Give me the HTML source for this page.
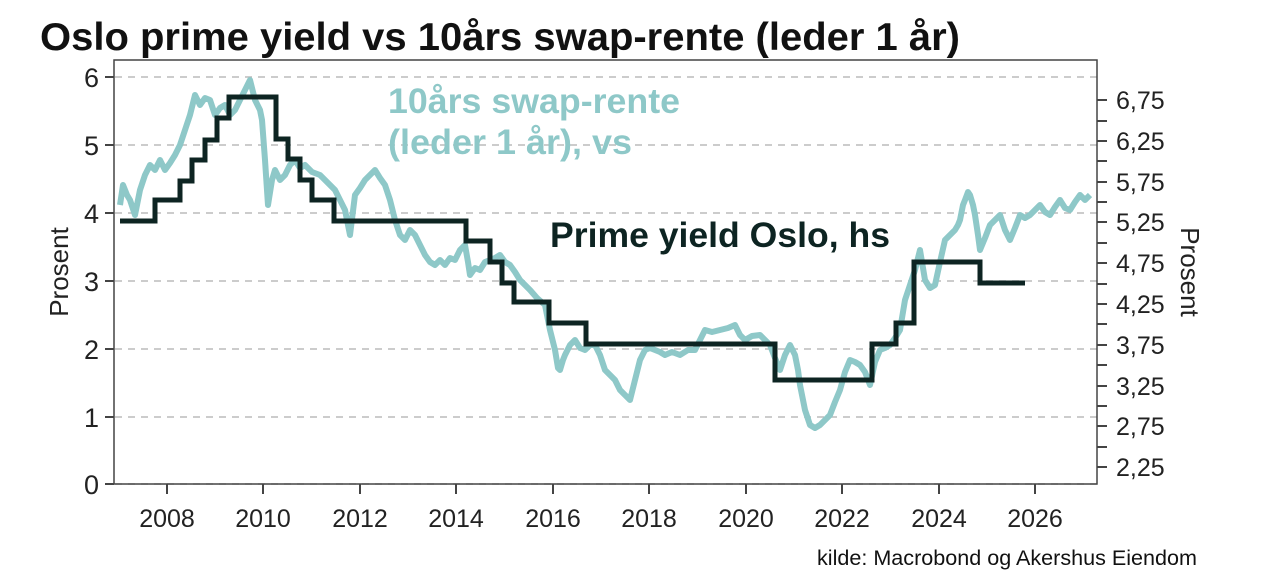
<!DOCTYPE html>
<html><head><meta charset="utf-8"><style>
body{margin:0;background:#fff;}
svg{display:block;font-family:"Liberation Sans",Arial,sans-serif;}
</style></head><body>
<svg width="1266" height="588" viewBox="0 0 1266 588">
<rect width="1266" height="588" fill="#fff"/>
<text x="40" y="50" font-size="39" font-weight="bold" fill="#111" textLength="920" lengthAdjust="spacingAndGlyphs">Oslo prime yield vs 10års swap-rente (leder 1 år)</text>
<g stroke="#bbb" stroke-width="1.5" stroke-dasharray="7,6">
<line x1="115" y1="77" x2="1097" y2="77"/><line x1="115" y1="145" x2="1097" y2="145"/>
<line x1="115" y1="213" x2="1097" y2="213"/><line x1="115" y1="281" x2="1097" y2="281"/>
<line x1="115" y1="349" x2="1097" y2="349"/><line x1="115" y1="417" x2="1097" y2="417"/>
<line x1="115" y1="484" x2="1097" y2="484"/>
</g>
<rect x="114" y="60" width="983" height="424" fill="none" stroke="#444" stroke-width="1.5"/>
<g stroke="#444" stroke-width="2">
<line x1="105" y1="77" x2="114" y2="77"/><line x1="105" y1="145" x2="114" y2="145"/><line x1="105" y1="213" x2="114" y2="213"/><line x1="105" y1="281" x2="114" y2="281"/><line x1="105" y1="349" x2="114" y2="349"/><line x1="105" y1="417" x2="114" y2="417"/><line x1="105" y1="484" x2="114" y2="484"/>
<line x1="167" y1="484" x2="167" y2="494"/><line x1="263" y1="484" x2="263" y2="494"/><line x1="360" y1="484" x2="360" y2="494"/><line x1="456" y1="484" x2="456" y2="494"/><line x1="553" y1="484" x2="553" y2="494"/><line x1="649" y1="484" x2="649" y2="494"/><line x1="746" y1="484" x2="746" y2="494"/><line x1="842" y1="484" x2="842" y2="494"/><line x1="939" y1="484" x2="939" y2="494"/><line x1="1035" y1="484" x2="1035" y2="494"/>
<line x1="1097" y1="100" x2="1107" y2="100"/><line x1="1097" y1="121" x2="1107" y2="121"/><line x1="1097" y1="141" x2="1107" y2="141"/><line x1="1097" y1="161" x2="1107" y2="161"/><line x1="1097" y1="182" x2="1107" y2="182"/><line x1="1097" y1="202" x2="1107" y2="202"/><line x1="1097" y1="222" x2="1107" y2="222"/><line x1="1097" y1="243" x2="1107" y2="243"/><line x1="1097" y1="263" x2="1107" y2="263"/><line x1="1097" y1="284" x2="1107" y2="284"/><line x1="1097" y1="304" x2="1107" y2="304"/><line x1="1097" y1="324" x2="1107" y2="324"/><line x1="1097" y1="345" x2="1107" y2="345"/><line x1="1097" y1="365" x2="1107" y2="365"/><line x1="1097" y1="386" x2="1107" y2="386"/><line x1="1097" y1="406" x2="1107" y2="406"/><line x1="1097" y1="426" x2="1107" y2="426"/><line x1="1097" y1="447" x2="1107" y2="447"/><line x1="1097" y1="467" x2="1107" y2="467"/>
</g>
<g font-size="27" fill="#222" text-anchor="end">
<text x="99" y="87">6</text><text x="99" y="155">5</text><text x="99" y="223">4</text><text x="99" y="291">3</text><text x="99" y="359">2</text><text x="99" y="427">1</text><text x="99" y="494">0</text>
</g>
<g font-size="25" fill="#222" text-anchor="middle">
<text x="167" y="527">2008</text><text x="263" y="527">2010</text><text x="360" y="527">2012</text><text x="456" y="527">2014</text><text x="553" y="527">2016</text><text x="649" y="527">2018</text><text x="746" y="527">2020</text><text x="842" y="527">2022</text><text x="939" y="527">2024</text><text x="1035" y="527">2026</text>
</g>
<g font-size="25" fill="#222">
<text x="1116" y="109">6,75</text><text x="1116" y="150">6,25</text><text x="1116" y="191">5,75</text><text x="1116" y="231">5,25</text><text x="1116" y="272">4,75</text><text x="1116" y="313">4,25</text><text x="1116" y="354">3,75</text><text x="1116" y="395">3,25</text><text x="1116" y="435">2,75</text><text x="1116" y="476">2,25</text>
</g>
<text transform="translate(68,272) rotate(-90)" font-size="26" fill="#222" text-anchor="middle">Prosent</text>
<text transform="translate(1181,272) rotate(90)" font-size="26" fill="#222" text-anchor="middle">Prosent</text>
<polyline fill="none" stroke="#8ec8c8" stroke-width="6" stroke-linejoin="round" points="120,205 123,185 127,195 130,200 135,215 138,200 140,190 145,175 150,165 155,170 160,160 165,170 170,163 175,155 180,145 185,130 190,115 195,95 200,105 205,98 210,100 215,115 220,108 225,105 230,115 235,110 240,100 245,90 250,80 255,100 260,110 262,120 265,160 268,205 272,180 275,170 280,180 285,175 290,165 295,160 300,168 305,165 312,172 320,175 328,183 335,190 340,200 345,210 350,235 355,195 360,188 365,180 370,175 375,170 380,178 385,185 390,200 395,220 400,235 405,240 410,230 415,235 420,245 425,255 430,262 435,265 440,260 445,265 450,258 455,260 460,250 465,245 468,262 470,275 475,268 480,270 485,262 490,260 495,258 500,255 505,262 510,265 515,272 520,280 525,285 530,290 537,298 545,305 550,330 555,350 558,368 560,370 563,360 565,355 570,345 575,340 580,348 585,350 590,345 595,345 600,355 605,370 610,375 615,380 620,390 625,395 630,400 635,380 640,360 645,350 650,348 655,350 660,352 665,355 672,352 680,355 688,350 695,350 700,340 705,330 712,332 720,330 728,328 735,325 740,335 745,340 752,336 760,335 765,340 770,345 775,358 780,370 785,355 790,345 795,355 798,370 800,385 805,410 810,425 815,428 820,425 825,420 830,415 835,402 840,390 845,372 850,360 855,362 860,365 865,372 870,385 875,362 880,350 885,348 890,345 895,338 900,330 903,312 905,300 910,285 915,270 920,250 923,268 925,280 930,288 935,285 940,262 945,240 950,235 955,230 958,225 960,220 963,205 965,200 968,192 970,195 973,205 975,215 978,235 980,250 985,238 990,225 995,220 1000,215 1005,230 1010,240 1015,228 1020,215 1025,218 1030,215 1035,210 1040,205 1045,212 1050,215 1055,207 1060,200 1065,208 1070,210 1075,202 1080,195 1085,200 1090,195"/>
<polyline fill="none" stroke="#0d2422" stroke-width="5" stroke-linejoin="miter" points="120,221 155,221 155,200 180,200 180,181 192,181 192,160 205,160 205,140 217,140 217,118 229,118 229,97 276,97 276,139 288,139 288,159 300,159 300,180 312,180 312,200 334,200 334,221 466,221 466,241 490,241 490,262 502,262 502,283 514,283 514,302 549,302 549,323 586,323 586,344 775,344 775,380 872,380 872,344 896,344 896,323 914,323 914,262 980,262 980,283 1025,283"/>
<text x="388" y="113" font-size="35" font-weight="bold" fill="#8ec8c8" textLength="292" lengthAdjust="spacingAndGlyphs">10års swap-rente</text>
<text x="388" y="154" font-size="35" font-weight="bold" fill="#8ec8c8" textLength="244" lengthAdjust="spacingAndGlyphs">(leder 1 år), vs</text>
<text x="550" y="247" font-size="35" font-weight="bold" fill="#0d2422" textLength="340" lengthAdjust="spacingAndGlyphs">Prime yield Oslo, hs</text>
<text x="1197" y="565" font-size="21" fill="#111" text-anchor="end" textLength="380" lengthAdjust="spacingAndGlyphs">kilde: Macrobond og Akershus Eiendom</text>
</svg>
</body></html>
